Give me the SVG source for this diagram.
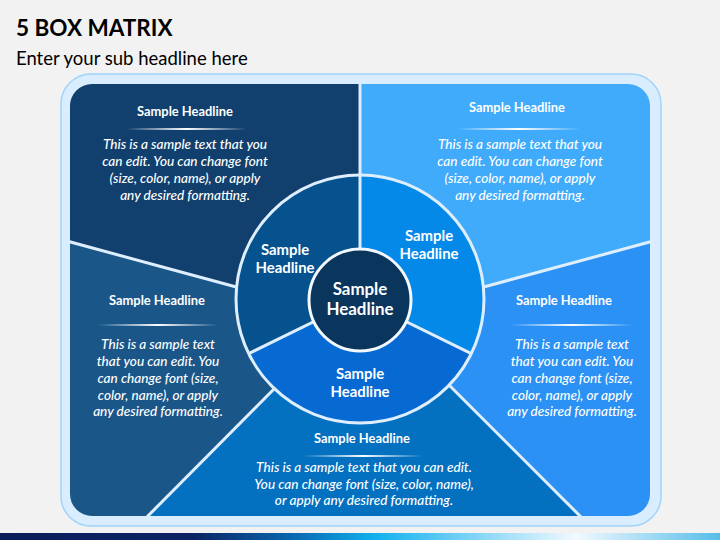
<svg xmlns="http://www.w3.org/2000/svg" width="720" height="540" viewBox="0 0 720 540">
<defs>
<style>
.title{font-family:Lato,"Liberation Sans",sans-serif;font-weight:bold;font-size:22.5px;fill:#000}
.sub{font-family:Lato,"Liberation Sans",sans-serif;font-size:18.5px;fill:#000}
.hd{font-family:Lato,"Liberation Sans",sans-serif;font-weight:bold;font-size:12.9px;fill:#fff;text-anchor:middle}
.bd{font-family:Lato,"Liberation Sans",sans-serif;font-style:italic;font-weight:500;font-size:13.6px;fill:#fff;text-anchor:middle}
.rl{font-family:Lato,"Liberation Sans",sans-serif;font-weight:bold;font-size:14.9px;fill:#fff;text-anchor:middle}
.cl{font-family:Lato,"Liberation Sans",sans-serif;font-weight:bold;font-size:16.9px;fill:#fff;text-anchor:middle}
.sep{stroke:#deeefd;stroke-width:3;fill:none}
</style>
<linearGradient id="hl" x1="0" y1="0" x2="1" y2="0">
<stop offset="0" stop-color="#fff" stop-opacity="0"/>
<stop offset="0.5" stop-color="#fff" stop-opacity="1"/>
<stop offset="1" stop-color="#fff" stop-opacity="0"/>
</linearGradient>
<linearGradient id="strip" x1="0" y1="0" x2="1" y2="0">
<stop offset="0" stop-color="#0a1d5a"/>
<stop offset="0.27" stop-color="#0b2464"/>
<stop offset="0.42" stop-color="#0a6fb8"/>
<stop offset="0.52" stop-color="#10b0ee"/>
<stop offset="0.8" stop-color="#f2f9ff"/>
<stop offset="1" stop-color="#56bde9"/>
</linearGradient>
<clipPath id="panel"><rect x="70" y="84" width="580" height="432" rx="22"/></clipPath>
</defs>
<rect width="720" height="540" fill="#f2f2f2"/>
<text class="title" x="16" y="36">5 BOX MATRIX</text>
<text class="sub" x="16" y="65">Enter your sub headline here</text>
<rect x="61" y="74" width="600" height="452" rx="30" fill="#d9edfe" stroke="#9fd4fb" stroke-width="1.5"/>
<g clip-path="url(#panel)">
<g id="box-top-left"><polygon points="50,70 360,70 360,299 235,287 50,236.5" fill="#113f6e"/></g>
<g id="box-top-right"><polygon points="360,70 670,70 670,236.5 485,287 360,299" fill="#41abfb"/></g>
<g id="box-left"><polygon points="50,236.5 235,287 360,299 272,391 134,530 50,530" fill="#1b5689"/></g>
<g id="box-bottom"><polygon points="134,530 272,391 360,299 452,388 594,530" fill="#0370c0"/></g>
<g id="box-right"><polygon points="594,530 452,388 360,299 485,287 670,236.5 670,530" fill="#2b91f4"/></g>
<g id="connectors">
<line class="sep" x1="360" y1="70" x2="360" y2="180"/>
<line class="sep" x1="50" y1="236.5" x2="240" y2="288"/>
<line class="sep" x1="670" y1="236.5" x2="480" y2="288"/>
<line class="sep" x1="134" y1="530" x2="276" y2="387"/>
<line class="sep" x1="594" y1="530" x2="448" y2="384"/>
</g>
</g>
<g id="ring">
<path d="M360,299 L248.7,353.6 A124,124 0 0 1 360,175 Z" fill="#06528f"/>
<path d="M360,299 L360,175 A124,124 0 0 1 471.3,353.6 Z" fill="#0589e8"/>
<path d="M360,299 L471.3,353.6 A124,124 0 0 1 248.7,353.6 Z" fill="#066ad2"/>
<line class="sep" x1="360" y1="299" x2="360" y2="175"/>
<line class="sep" x1="360" y1="299" x2="248.7" y2="353.6"/>
<line class="sep" x1="360" y1="299" x2="471.3" y2="353.6"/>
<circle cx="360" cy="299" r="124" class="sep"/>
</g>
<g id="center">
<circle cx="360" cy="300" r="51" fill="#0a355d" stroke="#f4f9ff" stroke-width="3"/>
<text class="cl" x="360" y="295">Sample</text>
<text class="cl" x="360" y="315">Headline</text>
</g>
<g id="ring-left"><text class="rl" x="285" y="255">Sample</text><text class="rl" x="285" y="273">Headline</text></g>
<g id="ring-right"><text class="rl" x="429" y="241">Sample</text><text class="rl" x="429" y="259">Headline</text></g>
<g id="ring-bottom"><text class="rl" x="360" y="379">Sample</text><text class="rl" x="360" y="397">Headline</text></g>
<g id="text-top-left">
<text class="hd" x="185" y="116">Sample Headline</text>
<rect x="126" y="128" width="121" height="2" fill="url(#hl)"/>
<text class="bd" x="185" y="149">This is a sample text that you</text>
<text class="bd" x="185" y="166">can edit. You can change font</text>
<text class="bd" x="185" y="183">(size, color, name), or apply</text>
<text class="bd" x="185" y="200">any desired formatting.</text>
</g>
<g id="text-top-right">
<text class="hd" x="517" y="112">Sample Headline</text>
<rect x="457" y="128" width="123" height="2" fill="url(#hl)"/>
<text class="bd" x="520" y="149">This is a sample text that you</text>
<text class="bd" x="520" y="166">can edit. You can change font</text>
<text class="bd" x="520" y="183">(size, color, name), or apply</text>
<text class="bd" x="520" y="200">any desired formatting.</text>
</g>
<g id="text-left">
<text class="hd" x="157" y="305">Sample Headline</text>
<rect x="98" y="324" width="120" height="2" fill="url(#hl)"/>
<text class="bd" x="158" y="349">This is a sample text</text>
<text class="bd" x="158" y="366">that you can edit. You</text>
<text class="bd" x="158" y="383">can change font (size,</text>
<text class="bd" x="158" y="400">color, name), or apply</text>
<text class="bd" x="158" y="416">any desired formatting.</text>
</g>
<g id="text-right">
<text class="hd" x="564" y="305">Sample Headline</text>
<rect x="510" y="324" width="123" height="2" fill="url(#hl)"/>
<text class="bd" x="572" y="349">This is a sample text</text>
<text class="bd" x="572" y="366">that you can edit. You</text>
<text class="bd" x="572" y="383">can change font (size,</text>
<text class="bd" x="572" y="400">color, name), or apply</text>
<text class="bd" x="572" y="416">any desired formatting.</text>
</g>
<g id="text-bottom">
<text class="hd" x="362" y="443">Sample Headline</text>
<rect x="303" y="455" width="120" height="2" fill="url(#hl)"/>
<text class="bd" x="364" y="472">This is a sample text that you can edit.</text>
<text class="bd" x="364" y="489">You can change font (size, color, name),</text>
<text class="bd" x="364" y="505">or apply any desired formatting.</text>
</g>
<rect x="0" y="533" width="720" height="7" fill="url(#strip)"/>
</svg>
